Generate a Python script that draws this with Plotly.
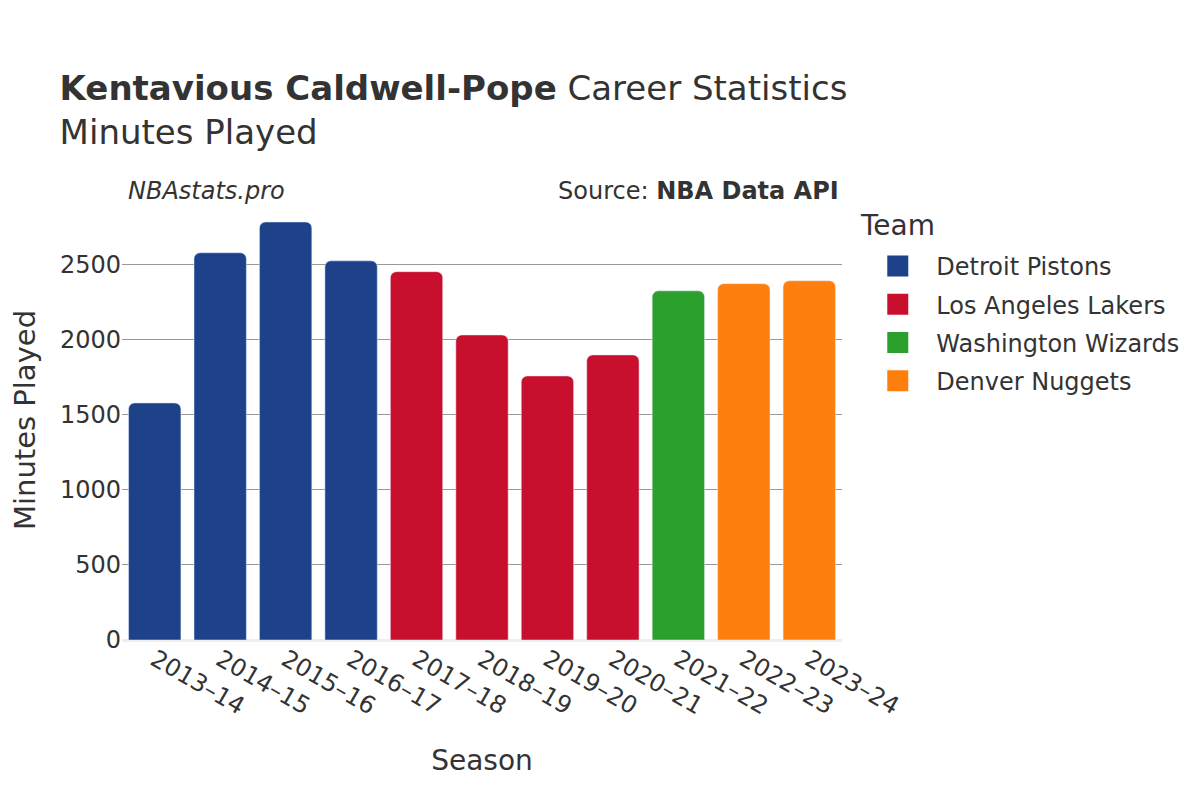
import plotly.graph_objects as go

seasons = ["2013–14", "2014–15", "2015–16", "2016–17", "2017–18", "2018–19",
           "2019–20", "2020–21", "2021–22", "2022–23", "2023–24"]
teams = ["Detroit Pistons", "Detroit Pistons", "Detroit Pistons", "Detroit Pistons",
         "Los Angeles Lakers", "Los Angeles Lakers", "Los Angeles Lakers", "Los Angeles Lakers",
         "Washington Wizards", "Denver Nuggets", "Denver Nuggets"]
minutes = [1580, 2581, 2786, 2527, 2455, 2033, 1760, 1900, 2327, 2375, 2394]

team_order = ["Detroit Pistons", "Los Angeles Lakers", "Washington Wizards", "Denver Nuggets"]
team_colors = {"Detroit Pistons": "#1d428a", "Los Angeles Lakers": "#c8102e",
               "Washington Wizards": "#2ca02c", "Denver Nuggets": "#ff7f0e"}

fig = go.Figure()
for t in team_order:
    xs = [s for s, tm in zip(seasons, teams) if tm == t]
    ys = [m for m, tm in zip(minutes, teams) if tm == t]
    fig.add_trace(go.Bar(x=xs, y=ys, name=t, showlegend=False, legendgroup=t,
                         marker=dict(color=team_colors[t], cornerradius=6)))
# legend-only entries with larger swatches
for t in team_order:
    fig.add_trace(go.Scatter(x=[None], y=[None], name=t, legendgroup=t, mode="markers",
                             marker=dict(symbol="square", size=16, color=team_colors[t],
                                         line=dict(color=team_colors[t], width=5)),
                             hoverinfo="skip"))

font_family = "DejaVu Sans, sans-serif"
fig.update_layout(
    width=1200, height=800,
    barmode="relative", bargap=0.2,
    plot_bgcolor="white", paper_bgcolor="white",
    font=dict(family=font_family, color="#333333", size=20),
    margin=dict(l=114, r=366, t=192, b=168),
    title=dict(
        text="<b>Kentavious Caldwell-Pope</b> Career Statistics<br>Minutes Played",
        x=0.043, xanchor="left", y=0.885, yanchor="top",
        font=dict(size=34, color="#333333"),
    ),
    legend=dict(font=dict(size=24),
                x=1.024, y=0.9, xanchor="left", yanchor="top", tracegroupgap=4,
                itemwidth=67, itemsizing="trace"),
    xaxis=dict(title=dict(text="Season", font=dict(size=28), standoff=30), tickangle=30,
               categoryorder="array", categoryarray=seasons, tickfont=dict(size=24),
               automargin=False),
    yaxis=dict(title=dict(text="Minutes Played", font=dict(size=29)),
               gridcolor="#999999", zerolinecolor="#eeeeee", zerolinewidth=3,
               tickfont=dict(size=24), dtick=500, automargin=False),
    annotations=[
        dict(text="<i>NBAstats.pro</i>", x=0.005, y=1.0205, xref="paper", yref="paper",
             xanchor="left", yanchor="middle", showarrow=False, font=dict(size=24)),
        dict(text="Source: <b>NBA Data API</b>", x=0.998, y=1.0205, xref="paper", yref="paper",
             xanchor="right", yanchor="middle", showarrow=False, font=dict(size=24)),
        dict(text="Team", x=1.0222, y=0.941, xref="paper", yref="paper",
             xanchor="left", yanchor="middle", showarrow=False, font=dict(size=28)),
    ],
)
fig.write_html("out.html")
